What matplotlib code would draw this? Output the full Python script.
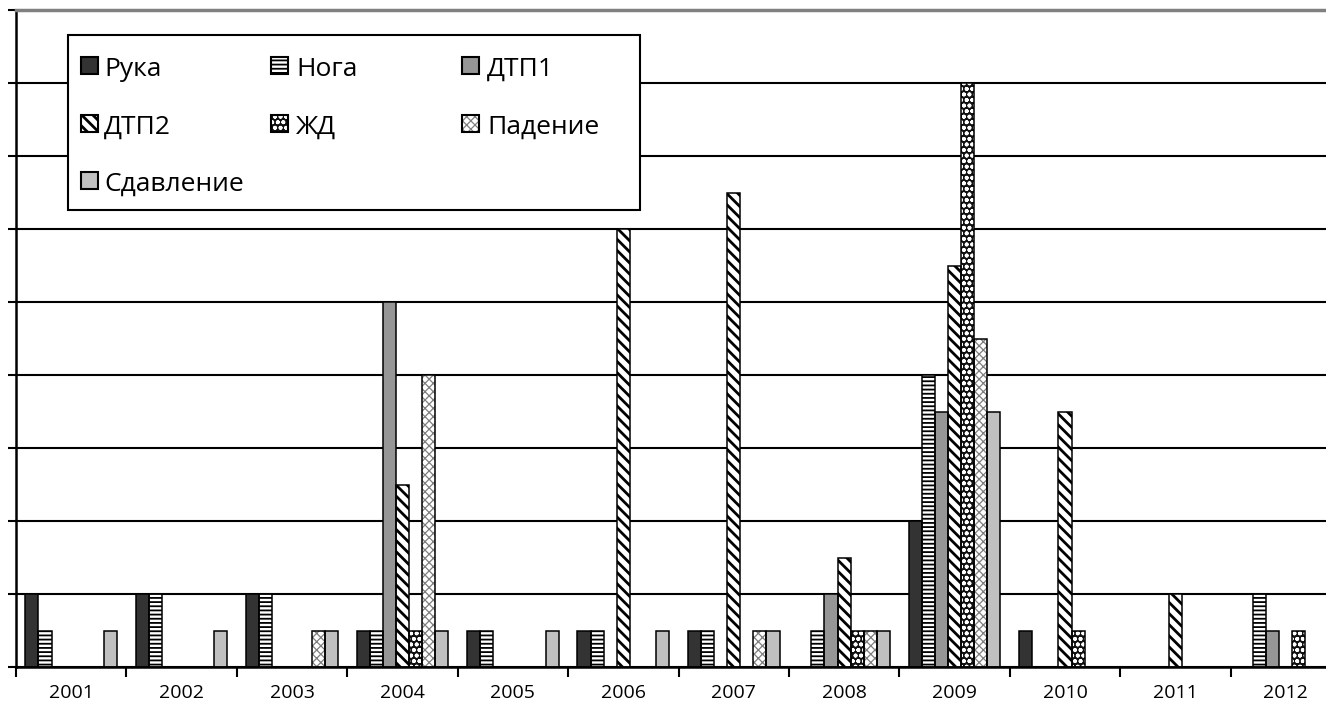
import matplotlib
matplotlib.use("Agg")
import matplotlib.pyplot as plt
from matplotlib.patches import Rectangle
import numpy as np

years = ["2001", "2002", "2003", "2004", "2005", "2006",
         "2007", "2008", "2009", "2010", "2011", "2012"]
series_names = ["Рука", "Нога", "ДТП1", "ДТП2", "ЖД", "Падение", "Сдавление"]

ruka      = [2, 2, 2, 1, 1, 1, 1, 0, 4, 1, 0, 0]
noga      = [1, 2, 2, 1, 1, 1, 1, 1, 8, 0, 0, 2]
dtp1      = [0, 0, 0, 10, 0, 0, 0, 2, 7, 0, 0, 1]
dtp2      = [0, 0, 0, 5, 0, 12, 13, 3, 11, 7, 2, 0]
zhd       = [0, 0, 0, 1, 0, 0, 0, 1, 16, 1, 0, 1]
padenie   = [0, 0, 1, 8, 0, 0, 1, 1, 9, 0, 0, 0]
sdavlenie = [1, 1, 1, 1, 1, 1, 1, 1, 7, 0, 0, 0]
series_values = [ruka, noga, dtp1, dtp2, zhd, padenie, sdavlenie]

styles = [
    dict(face="#333333", hatch=None, hcolor=None, hlw=1.0),
    dict(face="white", hatch="----", hcolor="black", hlw=1.3),
    dict(face="#969696", hatch=None, hcolor=None, hlw=1.0),
    dict(face="white", hatch="\\\\\\", hcolor="black", hlw=2.0),
    dict(face="#111111", hatch="ooo", hcolor="white", hlw=1.2),
    dict(face="white", hatch="xxxx", hcolor="#7f7f7f", hlw=0.9),
    dict(face="#c0c0c0", hatch=None, hcolor=None, hlw=1.0),
]

W, H = 1326, 711
plt.rcParams["hatch.linewidth"] = 1.5
fig = plt.figure(figsize=(W / 100, H / 100), dpi=100)

def fx(px):
    return px / W

def fy(py):
    return 1 - py / H

ax_left, ax_right, ax_top, ax_bottom = 16, 1341, 10, 667
ax = fig.add_axes([fx(ax_left), fy(ax_bottom), (ax_right - ax_left) / W,
                   (ax_bottom - ax_top) / H])

n_cat = len(years)
n_ser = len(series_names)
bw = 13.1 / 110.4
xc = np.arange(n_cat)

def set_hlw(patch, lw):
    if hasattr(patch, "set_hatch_linewidth"):
        patch.set_hatch_linewidth(lw)

for j, (vals, st) in enumerate(zip(series_values, styles)):
    vals = np.asarray(vals, dtype=float)
    idx = np.nonzero(vals)[0]
    xs = xc[idx] + (j - (n_ser - 1) / 2) * bw
    hs = vals[idx]
    with plt.rc_context({"hatch.linewidth": st["hlw"]}):
        bars = ax.bar(xs, hs, bw, color=st["face"],
                      edgecolor=st["hcolor"] if st["hcolor"] else st["face"],
                      hatch=st["hatch"], linewidth=0, zorder=2)
    for p in bars:
        set_hlw(p, st["hlw"])
    ax.bar(xs, hs, bw, fill=False, edgecolor="black", linewidth=1.1, zorder=3)

ax.set_xlim(-0.5, n_cat - 0.5)
ax.set_ylim(0, 18)
ax.set_axisbelow(True)
ax.set_yticks(np.arange(0, 19, 2))
ax.set_yticklabels([])
ax.yaxis.grid(True, color="black", linewidth=1.5)
ax.tick_params(axis="y", direction="out", length=6, width=1.5, color="black")

ax.set_xticks(xc)
ax.set_xticklabels(years, fontsize=14, family="Open Sans")
ax.set_xticks(np.arange(-0.5, n_cat, 1.0), minor=True)
ax.tick_params(axis="x", which="major", length=0, pad=12)
ax.tick_params(axis="x", which="minor", direction="out", length=7, width=1.5)

ax.spines["right"].set_visible(False)
ax.spines["top"].set_color("#808080")
ax.spines["top"].set_linewidth(2.5)
ax.spines["left"].set_linewidth(1.8)
ax.spines["bottom"].set_linewidth(1.8)

# Legend (drawn manually to match layout)
frame = Rectangle((fx(68), fy(210)), fx(640) - fx(68), fy(35) - fy(210),
                  transform=fig.transFigure, facecolor="white", edgecolor="black",
                  linewidth=1.5, zorder=5)
fig.add_artist(frame)
col_sw = [81, 271, 462]
col_tx = [104, 296, 487]
row_base = [76, 134, 191]
sw = 17
for k, (name, st) in enumerate(zip(series_names, styles)):
    r, c = divmod(k, 3)
    x0, yb = col_sw[c], row_base[r] - 2
    with plt.rc_context({"hatch.linewidth": st["hlw"]}):
        p1 = Rectangle((fx(x0), fy(yb)), sw / W, sw / H, transform=fig.transFigure,
                       facecolor=st["face"],
                       edgecolor=st["hcolor"] if st["hcolor"] else st["face"],
                       hatch=st["hatch"], linewidth=0, zorder=6)
    set_hlw(p1, st["hlw"])
    fig.add_artist(p1)
    p2 = Rectangle((fx(x0), fy(yb)), sw / W, sw / H, transform=fig.transFigure,
                   fill=False, edgecolor="black", linewidth=1.5, zorder=7)
    fig.add_artist(p2)
    fig.text(fx(col_tx[c]), fy(row_base[r]), name, fontsize=19,
             family="Open Sans", va="baseline", ha="left", zorder=8)

fig.savefig("out.png", dpi=100)
